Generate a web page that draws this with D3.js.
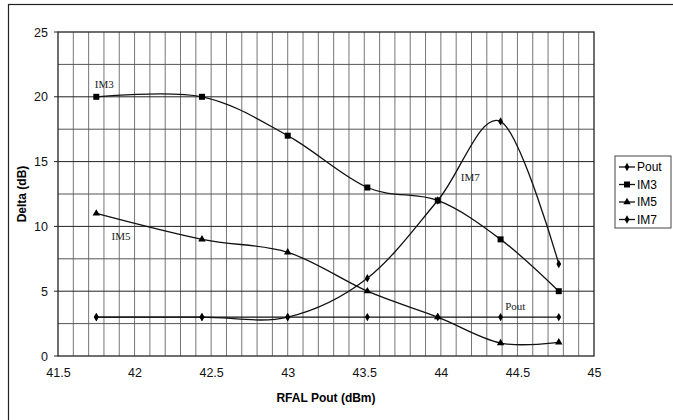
<!DOCTYPE html>
<html>
<head>
<script src="https://cdn.jsdelivr.net/npm/d3@7"></script>
<style>
  body { margin: 0; background: #fff; }
  svg text { font-family: Arial, "Liberation Sans", sans-serif; }
  .tick text { font-size: 12.5px; fill: #111; }
  .tick line { display: none; }
  .domain { display: none; }
  .note { font-family: "Liberation Serif", "Times New Roman", serif !important; font-size: 11px; fill: #222; }
</style>
</head>
<body>
<svg id="chart" width="673" height="420"></svg>
<script>
// Output power (dBm) at each measurement
var pout = [41.75, 42.44, 43.0, 43.52, 43.98, 44.39, 44.77];
var seriesNames = ["Pout", "IM3", "IM5", "IM7"];
var poutDelta = [3, 3, 3, 3, 3, 3, 3];
var im3 = [20, 20, 17, 13, 12, 9, 5];
var im5 = [11, 9, 8, 5, 3, 1, 1.05];
var im7 = [3, 3, 3, 6, 12, 18.1, 7.1];
var xTicks = [41.5, 42, 42.5, 43, 43.5, 44, 44.5, 45];
var yTicks = [0, 5, 10, 15, 20, 25];

var svg = d3.select("#chart");
var margin = {left: 58, top: 32, right: 79, bottom: 64};
var w = 673 - margin.left - margin.right, h = 420 - margin.top - margin.bottom;

// outer frame
svg.append("rect").attr("x", 8.5).attr("y", 4.5).attr("width", 700).attr("height", 500)
  .attr("fill", "none").attr("stroke", "#222").attr("stroke-width", 1.2);

var x = d3.scaleLinear().domain([41.5, 45]).range([0, w]);
var y = d3.scaleLinear().domain([0, 25]).range([h, 0]);

var g = svg.append("g").attr("transform", "translate(" + margin.left + "," + margin.top + ")");

// grid
g.selectAll(".vgrid").data(d3.range(1, 35).map(function(i){ return 41.5 + i * 0.1; }))
  .enter().append("line")
  .attr("x1", function(d){ return x(d); }).attr("x2", function(d){ return x(d); })
  .attr("y1", 0).attr("y2", h)
  .attr("stroke", "#666").attr("stroke-width", 0.9);
g.selectAll(".hgrid").data(d3.range(1, 10).map(function(i){ return i * 2.5; }))
  .enter().append("line")
  .attr("x1", 0).attr("x2", w)
  .attr("y1", function(d){ return y(d); }).attr("y2", function(d){ return y(d); })
  .attr("stroke", function(d){ return d % 5 === 0 ? "#222" : "#555"; })
  .attr("stroke-width", 1);
g.append("rect").attr("width", w).attr("height", h)
  .attr("fill", "none").attr("stroke", "#222").attr("stroke-width", 1.3);

g.append("g").attr("transform", "translate(0," + h + ")")
  .call(d3.axisBottom(x).tickValues(xTicks).tickFormat(d3.format("")).tickSize(0).tickPadding(12));
g.append("g")
  .call(d3.axisLeft(y).tickValues(yTicks).tickSize(0).tickPadding(10));
// small outside tick marks
g.selectAll(".ytk").data(yTicks).enter().append("line")
  .attr("x1", -4).attr("x2", 0).attr("y1", function(d){ return y(d); }).attr("y2", function(d){ return y(d); })
  .attr("stroke", "#222");

svg.append("text").attr("x", margin.left + w / 2).attr("y", 402)
  .attr("text-anchor", "middle").attr("font-weight", "bold").attr("font-size", 12)
  .text("RFAL Pout (dBm)");
svg.append("text").attr("transform", "translate(26," + (margin.top + h / 2) + ") rotate(-90)")
  .attr("text-anchor", "middle").attr("font-weight", "bold").attr("font-size", 12)
  .text("Delta (dB)");

var series = [
  {name: seriesNames[0], values: poutDelta, marker: "diamond"},
  {name: seriesNames[1], values: im3, marker: "square"},
  {name: seriesNames[2], values: im5, marker: "triangle"},
  {name: seriesNames[3], values: im7, marker: "diamond"}
];
var symbolOf = {diamond: d3.symbolDiamond, square: d3.symbolSquare, triangle: d3.symbolTriangle};
var sizeOf = {diamond: 20, square: 36, triangle: 24};

var line = d3.line().curve(d3.curveCatmullRom.alpha(0))
  .x(function(d){ return x(d[0]); }).y(function(d){ return y(d[1]); });

series.forEach(function(s){
  var pts = pout.map(function(p, i){ return [p, s.values[i]]; });
  g.append("path").datum(pts).attr("d", line)
    .attr("fill", "none").attr("stroke", "#111").attr("stroke-width", 1.3);
  g.selectAll(null).data(pts).enter().append("path")
    .attr("transform", function(d){ return "translate(" + x(d[0]) + "," + y(d[1]) + ")"; })
    .attr("d", d3.symbol().type(symbolOf[s.marker]).size(sizeOf[s.marker]))
    .attr("fill", "#000");
});

// in-plot labels
var notes = [["IM3", 41.74, 20.7], ["IM5", 41.85, 8.95], ["IM7", 44.13, 13.5], ["Pout", 44.42, 3.55]];
g.selectAll(".note").data(notes).enter().append("text").attr("class", "note")
  .attr("x", function(d){ return x(d[1]); }).attr("y", function(d){ return y(d[2]); })
  .text(function(d){ return d[0]; });

// legend
var lg = svg.append("g").attr("transform", "translate(615,156)");
lg.append("rect").attr("width", 56).attr("height", 72)
  .attr("fill", "#fff").attr("stroke", "#444").attr("stroke-width", 1);
series.forEach(function(s, i){
  var yy = 11 + i * 17.5;
  lg.append("line").attr("x1", 4).attr("x2", 20).attr("y1", yy).attr("y2", yy)
    .attr("stroke", "#111").attr("stroke-width", 1.3);
  lg.append("path").attr("transform", "translate(12," + yy + ")")
    .attr("d", d3.symbol().type(symbolOf[s.marker]).size(sizeOf[s.marker]));
  lg.append("text").attr("x", 22).attr("y", yy + 4).attr("font-size", 12).text(s.name);
});
</script>
</body>
</html>
